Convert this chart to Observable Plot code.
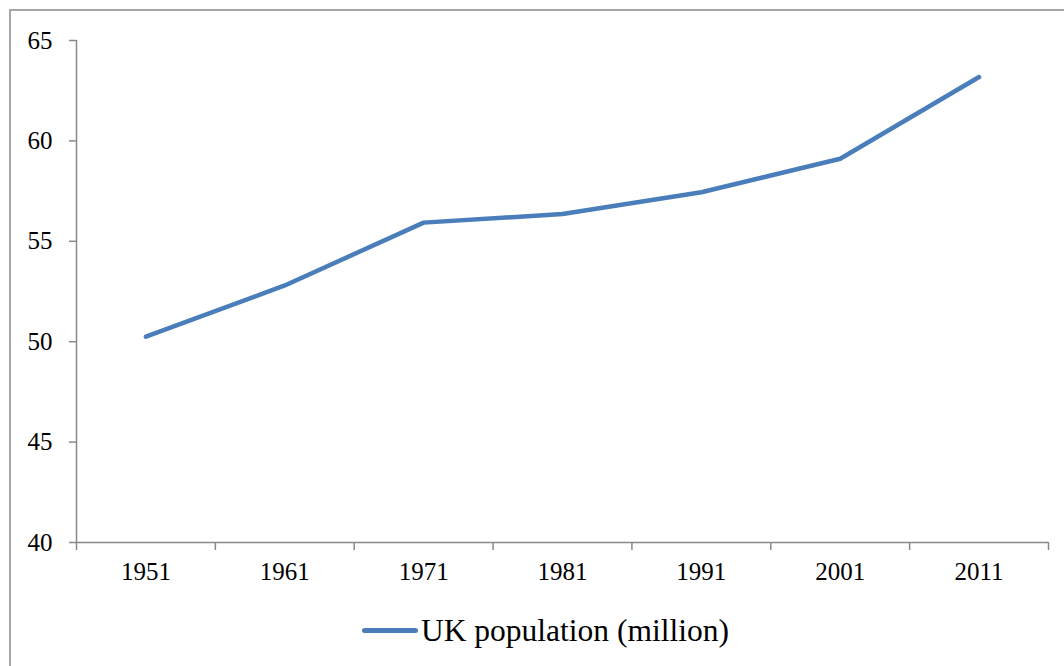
<!DOCTYPE html>
<html>
<head>
<meta charset="utf-8">
<script src="https://cdn.jsdelivr.net/npm/d3@7"></script>
<script src="https://cdn.jsdelivr.net/npm/@observablehq/plot@0.6"></script>
<style>
  html, body { margin: 0; padding: 0; background: #fff; overflow: hidden; }
  #wrap { position: relative; width: 1064px; height: 666px; font-family: "Liberation Serif", "Times New Roman", serif; }
  #frame { position: absolute; left: 9px; top: 9px; width: 1100px; height: 700px; border: 2px solid #a6a6a6; box-sizing: border-box; pointer-events: none; }
  #legsw { position: absolute; left: 362px; top: 628px; width: 56px; height: 5px; border-radius: 3px; background: #4a7ebb; }
  #legtext { position: absolute; left: 421px; top: 615px; font-size: 31.5px; line-height: 32px; color: #000; white-space: nowrap; }
</style>
</head>
<body>
<div id="wrap">
  <div id="chart"></div>
  <div id="legsw"></div>
  <div id="legtext"></div>
  <div id="frame"></div>
</div>
<script>
const years = [1951, 1961, 1971, 1981, 1991, 2001, 2011];
const population = [50.25, 52.8, 55.93, 56.36, 57.44, 59.11, 63.18];
const boundaries = [1946, 1956, 1966, 1976, 1986, 1996, 2006, 2016];
const yTicks = [40, 45, 50, 55, 60, 65];
const seriesName = "UK population (million)";

const data = years.map((y, i) => ({year: y, value: population[i]}));
const axisColor = "#898989";

const chart = Plot.plot({
  width: 1064,
  height: 600,
  marginLeft: 76,
  marginRight: 16,
  marginTop: 40,
  marginBottom: 58,
  style: {fontFamily: '"Liberation Serif", "Times New Roman", serif', fontSize: "25px", color: "#000", background: "transparent"},
  x: {type: "linear", domain: [1946, 2016]},
  y: {domain: [40, 65]},
  marks: [
    Plot.ruleX([1946], {stroke: axisColor, strokeWidth: 1.5}),
    Plot.ruleY([40], {stroke: axisColor, strokeWidth: 1.5}),
    Plot.axisY({ticks: yTicks, tickSize: 7, tickPadding: 17, stroke: axisColor, strokeWidth: 1.5, tickFormat: d => d, label: null, fill: "#000"}),
    Plot.axisX({ticks: boundaries, tickSize: 8, tickFormat: () => "", stroke: axisColor, strokeWidth: 1.5, label: null}),
    Plot.axisX({ticks: years, tickSize: 0, tickPadding: 20, tickFormat: d => String(d), label: null, fill: "#000"}),
    Plot.line(data, {x: "year", y: "value", stroke: "#4a7ebb", strokeWidth: 4.5, strokeLinecap: "round", strokeLinejoin: "round"})
  ]
});
document.getElementById("chart").appendChild(chart);
document.getElementById("legtext").textContent = seriesName;
</script>
</body>
</html>
